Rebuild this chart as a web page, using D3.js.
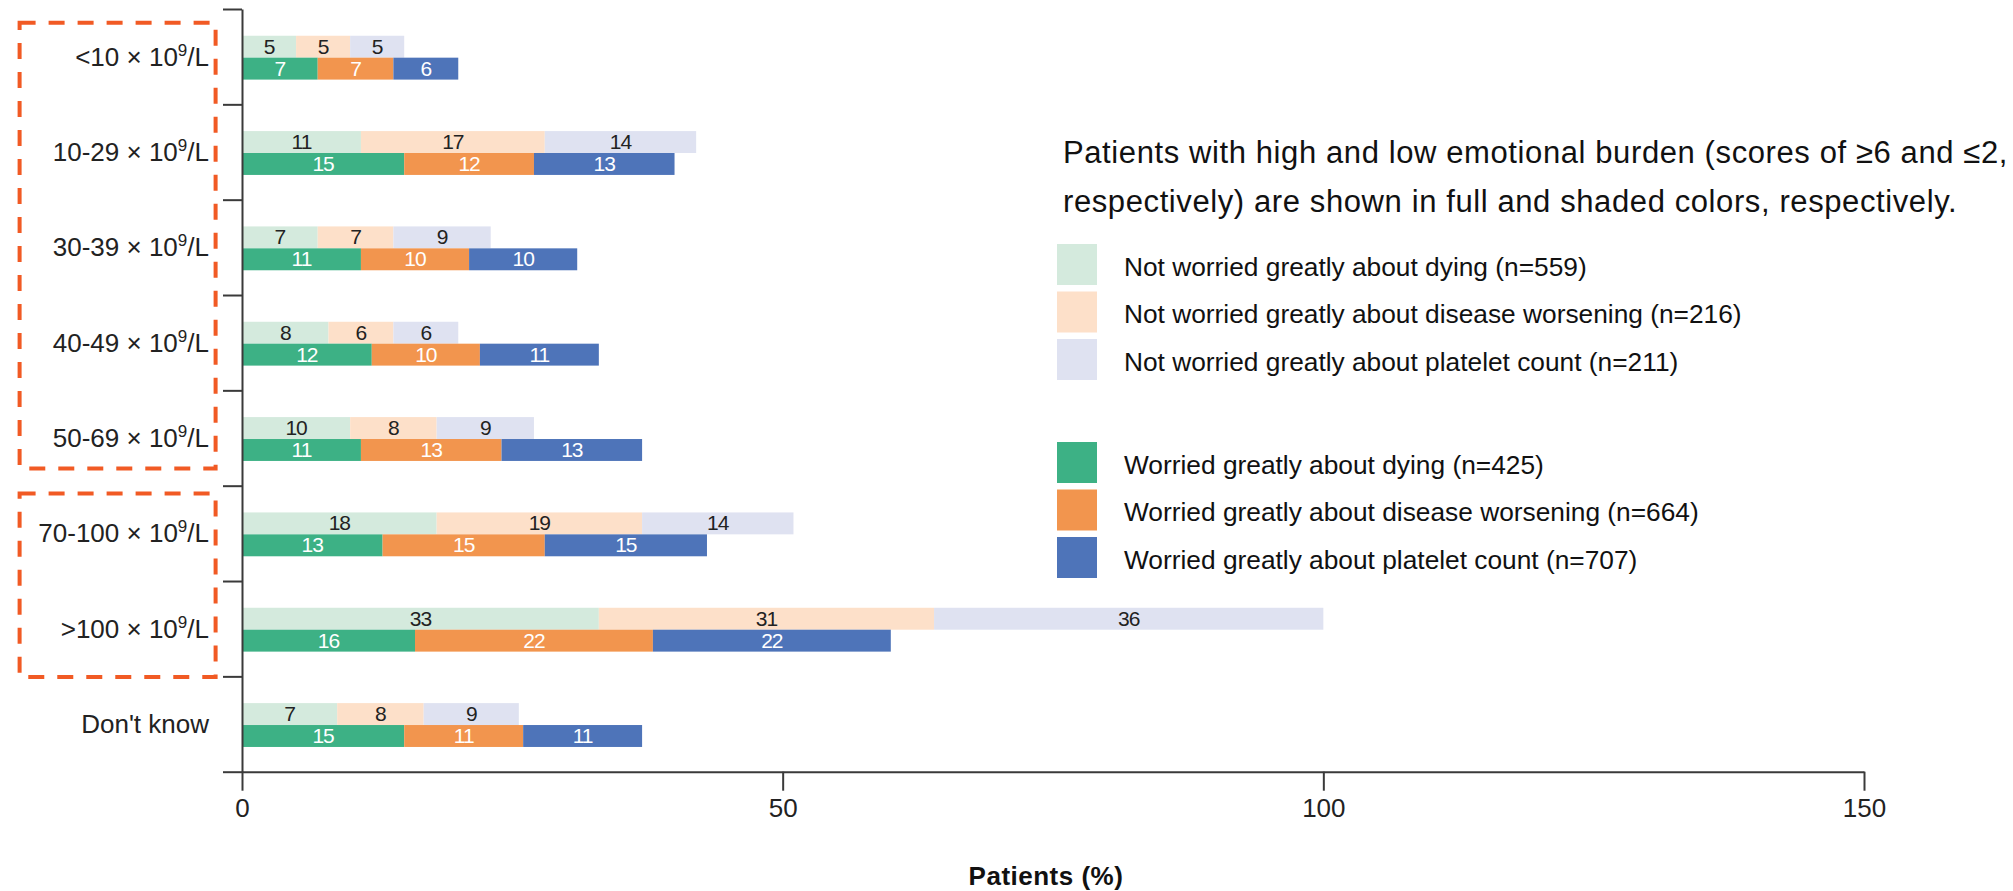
<!DOCTYPE html>
<html>
<head>
<meta charset="utf-8">
<script src="https://cdn.jsdelivr.net/npm/d3@7"></script>
<style>
  html, body { margin: 0; padding: 0; background: #fff; }
  svg { display: block; font-family: "Liberation Sans", Arial, Helvetica, sans-serif; }
</style>
</head>
<body>
<svg id="chart" width="2013" height="891"></svg>
<script>
// ---- data ----
const categories = ["<10", "10-29", "30-39", "40-49", "50-69", "70-100", ">100", "Don't know"];
// shaded (low emotional burden, not worried greatly): drawn bar lengths
const lowDying      = [5, 11, 7, 8, 10, 18, 33, 8.8];
const lowWorsening  = [5, 17, 7, 6, 8, 19, 31, 8.0];
const lowPlatelet   = [5, 14, 9, 6, 9, 14, 36, 8.8];
// printed labels on the shaded bars
const lowDyingLabel     = [5, 11, 7, 8, 10, 18, 33, 7];
const lowWorseningLabel = [5, 17, 7, 6, 8, 19, 31, 8];
const lowPlateletLabel  = [5, 14, 9, 6, 9, 14, 36, 9];
// full (high emotional burden, worried greatly)
const highDying     = [7, 15, 11, 12, 11, 13, 16, 15];
const highWorsening = [7, 12, 10, 10, 13, 15, 22, 11];
const highPlatelet  = [6, 13, 10, 11, 13, 15, 22, 11];
const xTicks = [0, 50, 100, 150];
const xTitle = "Patients (%)";
const noteLines = [
  "Patients with high and low emotional burden (scores of \u22656 and \u22642,",
  "respectively) are shown in full and shaded colors, respectively."
];
const lowLegend = [
  "Not worried greatly about dying (n=559)",
  "Not worried greatly about disease worsening (n=216)",
  "Not worried greatly about platelet count (n=211)"
];
const highLegend = [
  "Worried greatly about dying (n=425)",
  "Worried greatly about disease worsening (n=664)",
  "Worried greatly about platelet count (n=707)"
];
const lowColors  = ["#d4eadd", "#fde0c9", "#dfe2f1"];
const highColors = ["#3db185", "#f2954e", "#4e74b9"];
const boxGroups = [["<10", "50-69"], ["70-100", ">100"]];

// ---- layout ----
const svg = d3.select("#chart");
const x = d3.scaleLinear().domain([0, 150]).range([242, 1864]);
const y = d3.scaleBand().domain(categories).range([9, 771.7]).padding(0);
const yEdge = d3.scaleLinear().domain([0, categories.length]).range([9, 771.7]);
const barH = y.bandwidth() * 0.23;

const keys = ["a", "b", "c"];
const lowRows = categories.map((c, i) => ({cat: c, a: lowDying[i], b: lowWorsening[i], c: lowPlatelet[i],
  la: lowDyingLabel[i], lb: lowWorseningLabel[i], lc: lowPlateletLabel[i]}));
const highRows = categories.map((c, i) => ({cat: c, a: highDying[i], b: highWorsening[i], c: highPlatelet[i],
  la: highDying[i], lb: highWorsening[i], lc: highPlatelet[i]}));
const stack = d3.stack().keys(keys);
const lowStack = stack(lowRows);
const highStack = stack(highRows);

function drawStack(series, colors, yOff, textColor) {
  series.forEach((s, si) => {
    const g = svg.append("g");
    const lk = "l" + s.key;
    g.selectAll("rect").data(s).enter().append("rect")
      .attr("x", d => x(d[0]))
      .attr("y", d => y(d.data.cat) + y.bandwidth() / 2 + 1 + yOff)
      .attr("width", d => x(d[1]) - x(d[0]))
      .attr("height", barH)
      .attr("fill", colors[si]);
    g.selectAll("text").data(s).enter().append("text")
      .attr("x", d => (x(d[0]) + x(d[1])) / 2)
      .attr("y", d => y(d.data.cat) + y.bandwidth() / 2 + 1 + yOff + barH / 2 + 7)
      .attr("text-anchor", "middle")
      .attr("font-size", 21)
      .attr("letter-spacing", -1)
      .attr("fill", textColor)
      .text(d => d.data[lk]);
  });
}
drawStack(lowStack, lowColors, -barH, "#222");
drawStack(highStack, highColors, 0, "#fff");

// ---- axes ----
const yAxis = d3.axisLeft(yEdge).tickValues(d3.range(categories.length + 1))
  .tickFormat("").tickSize(19).tickSizeOuter(0);
const gy = svg.append("g").attr("transform", "translate(242,0)").call(yAxis);

const xAxis = d3.axisBottom(x).tickValues(xTicks).tickSize(19).tickSizeOuter(0).tickPadding(8);
const gx = svg.append("g").attr("transform", "translate(0,771.7)").call(xAxis);

[gy, gx].forEach(g => {
  g.selectAll("path, line").attr("stroke", "#3a3a3a").attr("stroke-width", 2);
  g.selectAll("text").attr("font-size", 26).attr("fill", "#222")
    .attr("font-family", "'Liberation Sans', Arial, sans-serif");
});

// category labels
categories.forEach(c => {
  const t = svg.append("text")
    .attr("x", 209)
    .attr("y", y(c) + y.bandwidth() / 2 + 9)
    .attr("text-anchor", "end")
    .attr("font-size", 26)
    .attr("fill", "#222");
  if (c === "Don't know") {
    t.text(c);
  } else {
    t.append("tspan").text(c + " \u00d7 10");
    t.append("tspan").attr("font-size", 17).attr("dy", -10).text("9");
    t.append("tspan").attr("dy", 10).text("/L");
  }
});

// x title
svg.append("text")
  .attr("x", 1046).attr("y", 885)
  .attr("text-anchor", "middle")
  .attr("font-size", 26).attr("font-weight", "bold")
  .attr("letter-spacing", 0.5)
  .attr("fill", "#111")
  .text(xTitle);

// dashed boxes (top / bottom insets from the band edges)
const boxInset = [[13.7, 17.3], [7.7, -0.7]];
boxGroups.forEach(([a, b], i) => {
  const top = y(a) + boxInset[i][0], bot = y(b) + y.bandwidth() - boxInset[i][1];
  svg.append("rect")
    .attr("x", 19.6).attr("y", top)
    .attr("width", 196).attr("height", bot - top)
    .attr("fill", "none")
    .attr("stroke", "#f15a24")
    .attr("stroke-width", 4)
    .attr("stroke-dasharray", "16,13");
});

// note
const note = svg.append("text").attr("font-size", 31).attr("letter-spacing", 0.6).attr("fill", "#111");
noteLines.forEach((l, i) => {
  note.append("tspan").attr("x", 1063).attr("y", 163 + i * 49).text(l);
});

// legend
function legend(labels, colors, y0) {
  labels.forEach((l, i) => {
    const yy = y0 + i * 47.5;
    svg.append("rect").attr("x", 1057).attr("y", yy).attr("width", 40).attr("height", 41).attr("fill", colors[i]);
    svg.append("text").attr("x", 1124).attr("y", yy + 31.5).attr("font-size", 26.3).attr("fill", "#111").text(l);
  });
}
legend(lowLegend, lowColors, 244);
legend(highLegend, highColors, 442);
</script>
</body>
</html>
